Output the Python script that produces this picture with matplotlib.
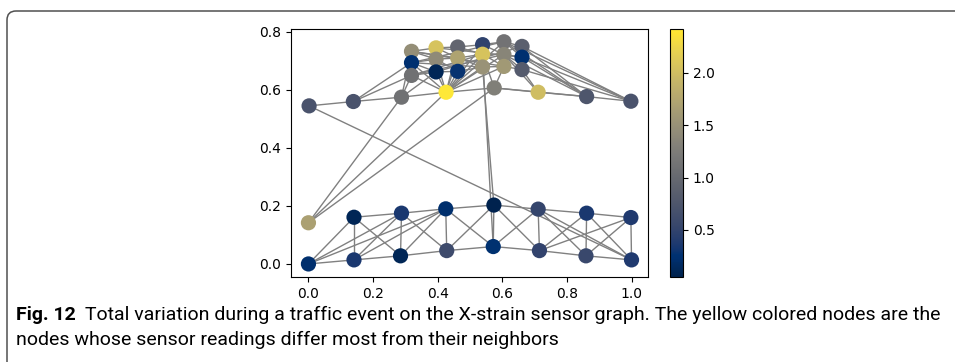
import numpy as np
import matplotlib
matplotlib.use("Agg")
import matplotlib.pyplot as plt
from matplotlib.collections import LineCollection
from matplotlib.patches import FancyBboxPatch
from matplotlib.transforms import IdentityTransform

# ---- node layout and total variation per sensor ----
# lower chord (L), upper chord (U), top row (T), clustered block (C)
lower_x = [0.0, 0.141, 0.285, 0.428, 0.572, 0.715, 0.859, 1.0]
lower_y = [0.0, 0.014, 0.028, 0.046, 0.060, 0.046, 0.028, 0.014]
lower_tv = [0.22, 0.35, 0.10, 0.60, 0.25, 0.50, 0.55, 0.38]

upper_x = [0.0, 0.141, 0.288, 0.425, 0.574, 0.711, 0.861, 0.998]
upper_y = [0.142, 0.161, 0.175, 0.190, 0.203, 0.189, 0.175, 0.160]
upper_tv = [1.68, 0.10, 0.35, 0.22, 0.05, 0.52, 0.35, 0.38]

top_x = [0.002, 0.139, 0.288, 0.426, 0.575, 0.711, 0.861, 0.998]
top_y = [0.545, 0.560, 0.575, 0.592, 0.607, 0.592, 0.577, 0.561]
top_tv = [0.71, 0.71, 1.10, 2.42, 1.28, 2.00, 0.75, 0.71]

cluster_x = [0.319, 0.395, 0.462, 0.539, 0.605, 0.661]
cluster_y = [[0.733, 0.745, 0.748, 0.756, 0.766, 0.750],
             [0.694, 0.706, 0.710, 0.723, 0.722, 0.713],
             [0.650, 0.662, 0.664, 0.679, 0.681, 0.670]]
cluster_tv = [[1.47, 2.06, 0.95, 0.48, 1.12, 0.88],
              [0.24, 1.42, 1.71, 2.06, 1.35, 0.24],
              [1.10, 0.10, 0.29, 1.52, 1.59, 0.81]]

extra_edges = [
    ("L0", "U1"), ("L0", "U2"), ("L0", "U3"), ("L1", "U3"),
    ("U5", "L7"), ("L5", "U7"),
    ("T0", "T1"), ("T1", "T2"), ("T2", "T3"), ("T3", "T4"), ("T4", "T5"),
    ("T5", "T6"), ("T6", "T7"), ("T4", "T6"),
    ("T0", "L7"), ("U0", "T2"), ("U0", "T3"), ("U0", "T4"),
    ("C23", "U4"), ("C13", "L4"),
    ("T1", "C20"), ("T1", "C10"), ("T2", "C20"), ("T2", "C21"), ("T2", "C00"),
    ("T3", "C10"), ("T3", "C11"), ("T3", "C12"), ("T3", "C13"), ("T3", "C14"),
    ("T3", "C20"), ("T3", "C21"), ("T3", "C22"), ("T3", "C23"), ("T3", "C24"),
    ("T3", "C03"), ("T3", "C04"), ("T3", "C02"),
    ("T4", "C24"), ("T4", "C13"), ("T5", "C25"), ("T5", "C14"),
    ("T6", "C05"), ("T6", "C15"), ("T6", "C14"), ("T6", "C04"),
    ("T7", "C05"), ("T7", "C15"), ("T7", "C25"), ("T7", "C04"),
    ("C00", "C12"), ("C10", "C04"), ("C20", "C13"), ("C20", "C14"),
    ("C10", "C23"), ("C01", "C15"), ("C21", "C05"), ("C00", "C24"),
]

caption_head = "Fig. 12"
caption_line1 = ("Total variation during a traffic event on the X-strain sensor graph. "
                 "The yellow colored nodes are the")
caption_line2 = "nodes whose sensor readings differ most from their neighbors"

# ---- assemble graph ----
pos, tv = {}, {}
for i in range(8):
    pos[f"L{i}"] = (lower_x[i], lower_y[i]); tv[f"L{i}"] = lower_tv[i]
    pos[f"U{i}"] = (upper_x[i], upper_y[i]); tv[f"U{i}"] = upper_tv[i]
    pos[f"T{i}"] = (top_x[i], top_y[i]); tv[f"T{i}"] = top_tv[i]
for r in range(3):
    for c in range(6):
        pos[f"C{r}{c}"] = (cluster_x[c], cluster_y[r][c])
        tv[f"C{r}{c}"] = cluster_tv[r][c]

edges = list(extra_edges)
for i in range(7):
    edges.append((f"L{i}", f"L{i+1}"))
for i in range(1, 8):
    edges.append((f"U{i}", f"L{i}"))
for i in range(1, 7):
    edges += [(f"U{i}", f"U{i+1}"), (f"U{i}", f"L{i+1}"), (f"L{i}", f"U{i+1}")]
for r in range(3):
    for c in range(5):
        edges.append((f"C{r}{c}", f"C{r}{c+1}"))
for c in range(6):
    edges += [(f"C0{c}", f"C1{c}"), (f"C1{c}", f"C2{c}")]
for c in range(5):
    edges += [(f"C1{c}", f"C2{c+1}"), (f"C0{c}", f"C1{c+1}")]

nodes = ([f"L{i}" for i in range(8)] + [f"U{i}" for i in range(8)] +
         [f"T{i}" for i in range(8)] +
         [f"C{r}{c}" for r in range(3) for c in range(6)])

fig = plt.figure(figsize=(9.55, 3.62), dpi=100)

# caption frame
frame = FancyBboxPatch((7, -60), 1000, 362 - 11 + 60,
                       boxstyle="round,pad=0,rounding_size=9",
                       transform=IdentityTransform(), fill=False,
                       edgecolor="#505050", linewidth=1.1)
fig.add_artist(frame)

ax = fig.add_axes([291 / 955, 1 - 277 / 362, 357 / 955, 248 / 362])
cax = fig.add_axes([670 / 955, 1 - 277 / 362, 13 / 955, 248 / 362])

segs = [[pos[a], pos[b]] for a, b in edges]
ax.add_collection(LineCollection(segs, colors="gray", linewidths=1.0, zorder=1))

xs = [pos[n][0] for n in nodes]
ys = [pos[n][1] for n in nodes]
vals = [tv[n] for n in nodes]
sc = ax.scatter(xs, ys, c=vals, cmap="cividis", s=120, zorder=2,
                linewidths=0)

ax.set_xlim(-0.054, 1.051)
ax.set_ylim(-0.045, 0.81)
ax.set_xticks([0.0, 0.2, 0.4, 0.6, 0.8, 1.0])
ax.set_yticks([0.0, 0.2, 0.4, 0.6, 0.8])
ax.tick_params(labelsize=10)

cb = fig.colorbar(sc, cax=cax)
cb.set_ticks([0.5, 1.0, 1.5, 2.0])
cb.ax.tick_params(labelsize=10)

# caption below the chart
cap_font = ["Roboto", "DejaVu Sans"]
cap_size = 14
head = fig.text(16 / 955, 1 - 320 / 362, caption_head, fontsize=cap_size,
                fontweight="bold", family=cap_font, va="baseline")
ax.annotate(caption_line1, xy=(1, 0), xycoords=head, xytext=(7, 0),
            textcoords="offset points", va="bottom", ha="left",
            fontsize=cap_size, family=cap_font, annotation_clip=False)
fig.text(16 / 955, 1 - 345 / 362, caption_line2,
         fontsize=cap_size, family=cap_font, va="baseline")

fig.savefig("out.png", dpi=100)
